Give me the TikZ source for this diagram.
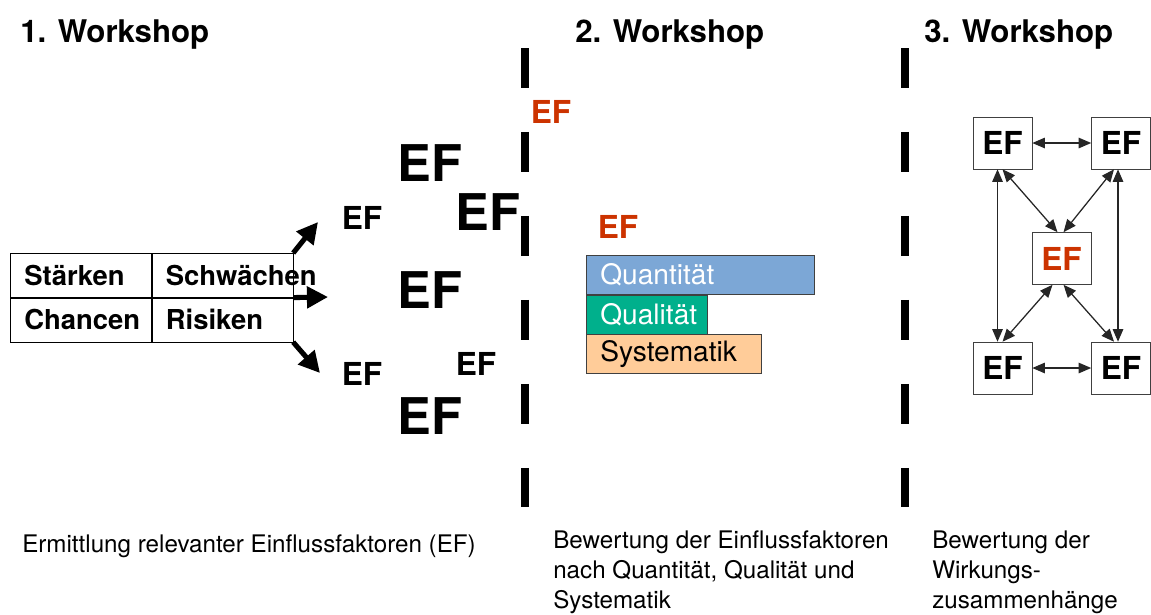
\documentclass[tikz,border=0pt]{standalone}
\usepackage{fontspec}
\setmainfont{TeX Gyre Heros}
\usepackage{xcolor}
\usetikzlibrary{arrows.meta, positioning, calc}
\definecolor{efred}{RGB}{204,51,0}
\definecolor{quantblue}{RGB}{124,167,214}
\definecolor{qualgreen}{RGB}{0,176,140}
\definecolor{systorange}{RGB}{255,204,153}

\begin{document}
\begin{tikzpicture}[
				x=0.025cm, y=-0.025cm,
				>={Triangle[length=9pt, width=7.5pt]},
				head/.style={font=\bfseries\fontsize{22.2pt}{26pt}\selectfont,
					anchor=base west, inner sep=0pt},
				cell/.style={draw, anchor=north west, text width=2.825cm,
					inner xsep=0.35cm, inner ysep=0pt, minimum height=1.1cm,
					align=left, font=\bfseries\fontsize{19.5pt}{23pt}\selectfont},
				efsmall/.style={font=\bfseries\fontsize{22.5pt}{26pt}\selectfont, inner sep=0pt},
				eflarge/.style={font=\bfseries\fontsize{36pt}{40pt}\selectfont, inner sep=0pt},
				bar/.style={draw=black!75, anchor=north west, text width=#1,
					minimum height=0.975cm, inner xsep=0.35cm, inner ysep=0pt,
					align=left, font=\fontsize{20pt}{24pt}\selectfont},
				nbox/.style={draw=black!75, minimum width=1.475cm, minimum height=1.3cm,
					inner sep=0pt, font=\bfseries\fontsize{22.5pt}{26pt}\selectfont},
				fat/.style={line width=3.6pt, -{Triangle[length=15pt, width=15pt]}},
				link/.style={<->, line width=0.9pt, draw=black!85},
				divider/.style={line width=5.7pt, dash pattern=on 28.5pt off 31.2pt},
				caption/.style={anchor=north west, inner sep=0pt, align=left,
					font=\fontsize{17.2pt}{21.3pt}\selectfont}
				]
				\useasboundingbox (0,0) rectangle (1151,614);
				
				%--- headings --------------------------------------------------------------
				\node[head] (ws1) at (20,42) {1. Workshop};
				\node[head] (ws2) at (575,42) {2. Workshop};
				\node[head] (ws3) at (924,42) {3. Workshop};
				
				%--- dividers --------------------------------------------------------------
				\coordinate (d1top) at (525,48);
				\coordinate (d1bot) at (525,507);
				\coordinate (d2top) at (905,48);
				\coordinate (d2bot) at (905,507);
				\draw[divider] (d1top) -- (d1bot);
				\draw[divider] (d2top) -- (d2bot);
				
				%--- SWOT table ------------------------------------------------------------
				\node[cell] (staerken) at (10,253) {Stärken};
				\node[cell] (schwaechen) at (staerken.north east) {Schwächen};
				\node[cell] (chancen) at (staerken.south west) {Chancen};
				\node[cell] (risiken) at (chancen.north east) {Risiken};
				
				\coordinate (tipup) at (318,222);
				\coordinate (tipmid) at (328,297);
				\coordinate (tipdown) at (320,373);
				\draw[fat] (schwaechen.north east) -- (tipup);
				\draw[fat] (schwaechen.south east) -- (tipmid);
				\draw[fat] (risiken.south east) -- (tipdown);
				
				%--- scattered factors -----------------------------------------------------
				\node[eflarge] (efa) at (430,163) {EF};
				\node[eflarge] (efb) at (488,212) {EF};
				\node[efsmall] (efc) at (362,218) {EF};
				\node[eflarge] (efd) at (430,290) {EF};
				\node[efsmall] (efe) at (362,374) {EF};
				\node[efsmall] (eff) at (476,364) {EF};
				\node[eflarge] (efg) at (430,416) {EF};
				
				%--- rating ----------------------------------------------------------------
				\node[efsmall, text=efred] (efrot1) at (551,112) {EF};
				\node[efsmall, text=efred] (efrot2) at (618,227) {EF};
				
				\node[bar=5cm, fill=quantblue, text=white] (quant) at (586,255) {Quantität};
				\node[bar=2.325cm, fill=qualgreen, text=white] (qual) at (quant.south west) {Qualität};
				\node[bar=3.675cm, fill=systorange] (syst) at (qual.south west) {Systematik};
				
				%--- network of effects ----------------------------------------------------
				\node[nbox] (tl) at (1002.5,143) {EF};
				\node[nbox] (tr) at (1121,143) {EF};
				\node[nbox, text=efred] (mid) at (1061.5,258.5) {EF};
				\node[nbox] (bl) at (1002.5,368) {EF};
				\node[nbox] (br) at (1121,368) {EF};
				
				\draw[link] (tl) -- (tr);
				\draw[link] (bl) -- (br);
				\draw[link] ($(tl.south)+(-5,0)$) -- ($(bl.north)+(-5,0)$);
				\draw[link] ($(tr.south)+(-3,0)$) -- ($(br.north)+(-3,0)$);
				\draw[link] (tl.south) -- ($(mid.north)+(-4,0)$);
				\draw[link] ($(tr.south)+(-7,0)$) -- ($(mid.north)+(2,0)$);
				\draw[link] ($(mid.south)+(-9,0)$) -- (bl.north);
				\draw[link] ($(mid.south)+(2,0)$) -- ($(br.north)+(-7,0)$);
				
				%--- captions --------------------------------------------------------------
				\node[caption] (cap1) at (22,535) {Ermittlung relevanter Einflussfaktoren (EF)};
				\node[caption] (cap2) at (553,531) {Bewertung der Einflussfaktoren\\nach Quantität, Qualität und\\Systematik};
				\node[caption] (cap3) at (932,531) {Bewertung der\\Wirkungs-\\zusammenhänge};
			\end{tikzpicture}
\end{document}
